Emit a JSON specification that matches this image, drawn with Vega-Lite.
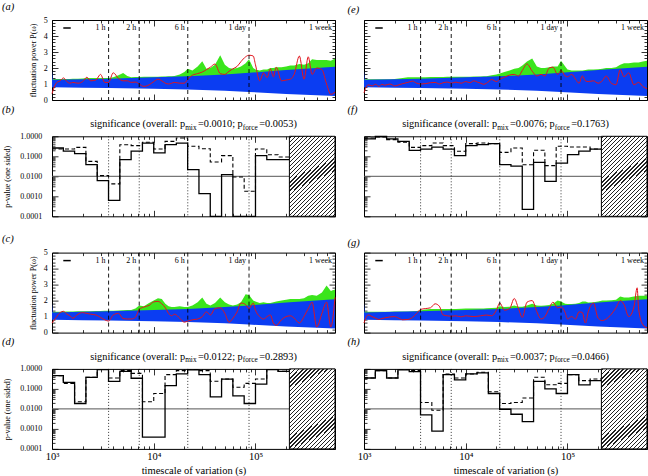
{
"$schema":"https://vega.github.io/schema/vega-lite/v6.json",
"padding":{"left":2,"top":1,"right":0,"bottom":0},
"background":"white",
"config":{
"font":"Liberation Serif",
"view":{"stroke":null},
"axis":{"grid":false,"zindex":1,"labelColor":"black","titleColor":"black","tickColor":"black","domainColor":"black","domainWidth":1,"tickWidth":0.8,"titleFontWeight":"normal","labelFlush":false,"labelOverlap":false,"labelFont":"Liberation Serif","titleFont":"Liberation Serif"},
"axisY":{"labelFontSize":8,"titleFontSize":8},
"axisX":{"labelFontSize":10.5,"titleFontSize":10.5},
"title":{"font":"Liberation Serif","fontSize":10.5,"fontStyle":"italic","fontWeight":"normal","anchor":"start","frame":"group","offset":4,"color":"black"},
"text":{"font":"Liberation Serif","color":"black"},
"rect":{"stroke":"black","strokeWidth":1,"fill":{"gradient":"linear","x1":0,"y1":0,"x2":0.681,"y2":1.184,"stops":[{"offset":0,"color":"#fff"},{"offset":0.0113,"color":"#fff"},{"offset":0.0113,"color":"#222"},{"offset":0.021,"color":"#222"},{"offset":0.021,"color":"#fff"},{"offset":0.0435,"color":"#fff"},{"offset":0.0435,"color":"#222"},{"offset":0.0532,"color":"#222"},{"offset":0.0532,"color":"#fff"},{"offset":0.0758,"color":"#fff"},{"offset":0.0758,"color":"#222"},{"offset":0.0855,"color":"#222"},{"offset":0.0855,"color":"#fff"},{"offset":0.1081,"color":"#fff"},{"offset":0.1081,"color":"#222"},{"offset":0.1177,"color":"#222"},{"offset":0.1177,"color":"#fff"},{"offset":0.1403,"color":"#fff"},{"offset":0.1403,"color":"#222"},{"offset":0.15,"color":"#222"},{"offset":0.15,"color":"#fff"},{"offset":0.1726,"color":"#fff"},{"offset":0.1726,"color":"#222"},{"offset":0.1823,"color":"#222"},{"offset":0.1823,"color":"#fff"},{"offset":0.2048,"color":"#fff"},{"offset":0.2048,"color":"#222"},{"offset":0.2145,"color":"#222"},{"offset":0.2145,"color":"#fff"},{"offset":0.2371,"color":"#fff"},{"offset":0.2371,"color":"#222"},{"offset":0.2468,"color":"#222"},{"offset":0.2468,"color":"#fff"},{"offset":0.2694,"color":"#fff"},{"offset":0.2694,"color":"#222"},{"offset":0.279,"color":"#222"},{"offset":0.279,"color":"#fff"},{"offset":0.3016,"color":"#fff"},{"offset":0.3016,"color":"#222"},{"offset":0.3113,"color":"#222"},{"offset":0.3113,"color":"#fff"},{"offset":0.3339,"color":"#fff"},{"offset":0.3339,"color":"#222"},{"offset":0.3435,"color":"#222"},{"offset":0.3435,"color":"#fff"},{"offset":0.3661,"color":"#fff"},{"offset":0.3661,"color":"#222"},{"offset":0.3758,"color":"#222"},{"offset":0.3758,"color":"#fff"},{"offset":0.3984,"color":"#fff"},{"offset":0.3984,"color":"#222"},{"offset":0.4081,"color":"#222"},{"offset":0.4081,"color":"#fff"},{"offset":0.4306,"color":"#fff"},{"offset":0.4306,"color":"#222"},{"offset":0.4403,"color":"#222"},{"offset":0.4403,"color":"#fff"},{"offset":0.4629,"color":"#fff"},{"offset":0.4629,"color":"#222"},{"offset":0.4726,"color":"#222"},{"offset":0.4726,"color":"#fff"},{"offset":0.4952,"color":"#fff"},{"offset":0.4952,"color":"#222"},{"offset":0.5048,"color":"#222"},{"offset":0.5048,"color":"#fff"},{"offset":0.5274,"color":"#fff"},{"offset":0.5274,"color":"#222"},{"offset":0.5371,"color":"#222"},{"offset":0.5371,"color":"#fff"},{"offset":0.5597,"color":"#fff"},{"offset":0.5597,"color":"#222"},{"offset":0.5694,"color":"#222"},{"offset":0.5694,"color":"#fff"},{"offset":0.5919,"color":"#fff"},{"offset":0.5919,"color":"#222"},{"offset":0.6016,"color":"#222"},{"offset":0.6016,"color":"#fff"},{"offset":0.6242,"color":"#fff"},{"offset":0.6242,"color":"#222"},{"offset":0.6339,"color":"#222"},{"offset":0.6339,"color":"#fff"},{"offset":0.6565,"color":"#fff"},{"offset":0.6565,"color":"#222"},{"offset":0.6661,"color":"#222"},{"offset":0.6661,"color":"#fff"},{"offset":0.6887,"color":"#fff"},{"offset":0.6887,"color":"#222"},{"offset":0.6984,"color":"#222"},{"offset":0.6984,"color":"#fff"},{"offset":0.721,"color":"#fff"},{"offset":0.721,"color":"#222"},{"offset":0.7306,"color":"#222"},{"offset":0.7306,"color":"#fff"},{"offset":0.7532,"color":"#fff"},{"offset":0.7532,"color":"#222"},{"offset":0.7629,"color":"#222"},{"offset":0.7629,"color":"#fff"},{"offset":0.7855,"color":"#fff"},{"offset":0.7855,"color":"#222"},{"offset":0.7952,"color":"#222"},{"offset":0.7952,"color":"#fff"},{"offset":0.8177,"color":"#fff"},{"offset":0.8177,"color":"#222"},{"offset":0.8274,"color":"#222"},{"offset":0.8274,"color":"#fff"},{"offset":0.85,"color":"#fff"},{"offset":0.85,"color":"#222"},{"offset":0.8597,"color":"#222"},{"offset":0.8597,"color":"#fff"},{"offset":0.8823,"color":"#fff"},{"offset":0.8823,"color":"#222"},{"offset":0.8919,"color":"#222"},{"offset":0.8919,"color":"#fff"},{"offset":0.9145,"color":"#fff"},{"offset":0.9145,"color":"#222"},{"offset":0.9242,"color":"#222"},{"offset":0.9242,"color":"#fff"},{"offset":0.9468,"color":"#fff"},{"offset":0.9468,"color":"#222"},{"offset":0.9565,"color":"#222"},{"offset":0.9565,"color":"#fff"},{"offset":0.979,"color":"#fff"},{"offset":0.979,"color":"#222"},{"offset":0.9887,"color":"#222"},{"offset":0.9887,"color":"#fff"},{"offset":1,"color":"#fff"}]}}
},
"datasets":{
"blue":[{"t":1000,"lo":0.78,"hi":1.85},{"t":1015,"lo":0.8,"hi":1.26},{"t":2000,"lo":0.77,"hi":1.3},{"t":3600,"lo":0.75,"hi":1.33},{"t":10000,"lo":0.71,"hi":1.42},{"t":21600,"lo":0.66,"hi":1.48},{"t":50000,"lo":0.58,"hi":1.6},{"t":86400,"lo":0.5,"hi":1.7},{"t":200000,"lo":0.38,"hi":1.88},{"t":604800,"lo":0.25,"hi":2.08}],
"markers":[{"t":3600,"label":"1 h"},{"t":7200,"label":"2 h"},{"t":21600,"label":"6 h"},{"t":86400,"label":"1 day"},{"t":604800,"label":"1 week"}],
"resbar":[{"start":1291,"end":1528}],
"hatch":[{"start":215443,"end":604800}],
"sig":[{"panel":"b","mix":"=0.0010; p","force":"=0.0053)"},{"panel":"d","mix":"=0.0122; p","force":"=0.2893)"},{"panel":"f","mix":"=0.0076; p","force":"=0.1763)"},{"panel":"h","mix":"=0.0037; p","force":"=0.0466)"}],
"powA":[{"t":1000,"red":0.4,"green":1.3},{"t":1100,"red":1.05,"green":1.32},{"t":1200,"red":1.2,"green":1.32},{"t":1300,"red":1.38,"green":1.32},{"t":1400,"red":1.15,"green":1.32},{"t":1500,"red":1.05,"green":1.32},{"t":1600,"red":1.1,"green":1.33},{"t":1800,"red":1.05,"green":1.33},{"t":2000,"red":1.15,"green":1.34},{"t":2200,"red":1.42,"green":1.38},{"t":2400,"red":1.2,"green":1.38},{"t":2700,"red":1.25,"green":1.38},{"t":3000,"red":1.6,"green":1.38},{"t":3300,"red":1.1,"green":1.38},{"t":3600,"red":1.1,"green":1.38},{"t":4000,"red":1.7,"green":1.42},{"t":4500,"red":1.35,"green":1.55},{"t":5000,"red":1.2,"green":1.68},{"t":5500,"red":1.2,"green":1.5},{"t":6000,"red":1.1,"green":1.42},{"t":6600,"red":1.12,"green":1.44},{"t":7200,"red":1.0,"green":1.44},{"t":8000,"red":0.85,"green":1.45},{"t":9000,"red":0.95,"green":1.45},{"t":10000,"red":1.15,"green":1.46},{"t":11000,"red":1.3,"green":1.46},{"t":12000,"red":1.2,"green":1.47},{"t":13000,"red":1.05,"green":1.47},{"t":14000,"red":1.0,"green":1.48},{"t":15000,"red":1.05,"green":1.48},{"t":16000,"red":1.1,"green":1.5},{"t":18000,"red":1.05,"green":1.6},{"t":20000,"red":1.05,"green":1.75},{"t":21600,"red":1.3,"green":1.95},{"t":24000,"red":1.55,"green":1.85},{"t":27000,"red":1.65,"green":2.1},{"t":30000,"red":1.75,"green":2.42},{"t":33000,"red":1.9,"green":1.95},{"t":36000,"red":2.05,"green":2.0},{"t":40000,"red":2.25,"green":2.2},{"t":45000,"red":1.65,"green":2.8},{"t":50000,"red":1.6,"green":2.2},{"t":55000,"red":1.8,"green":2.0},{"t":60000,"red":1.95,"green":1.95},{"t":66000,"red":2.1,"green":2.0},{"t":72000,"red":2.4,"green":2.1},{"t":80000,"red":2.7,"green":2.3},{"t":86400,"red":2.8,"green":2.55},{"t":95000,"red":2.75,"green":2.0},{"t":100000,"red":2.2,"green":1.9},{"t":110000,"red":1.2,"green":1.85},{"t":120000,"red":1.7,"green":1.9},{"t":130000,"red":1.4,"green":1.9},{"t":140000,"red":1.95,"green":2.0},{"t":150000,"red":1.45,"green":2.0},{"t":160000,"red":2.05,"green":2.05},{"t":180000,"red":1.2,"green":2.05},{"t":200000,"red":1.25,"green":2.1},{"t":220000,"red":1.3,"green":2.15},{"t":240000,"red":1.6,"green":2.15},{"t":270000,"red":2.75,"green":2.25},{"t":300000,"red":1.3,"green":2.2},{"t":330000,"red":2.7,"green":2.3},{"t":360000,"red":1.6,"green":2.55},{"t":400000,"red":2.0,"green":2.5},{"t":450000,"red":1.9,"green":2.5},{"t":500000,"red":1.0,"green":2.5},{"t":550000,"red":0.35,"green":2.45},{"t":604800,"red":0.5,"green":2.6}],
"powC":[{"t":1000,"red":0.6,"green":1.28},{"t":1100,"red":0.95,"green":1.3},{"t":1200,"red":1.25,"green":1.3},{"t":1300,"red":1.33,"green":1.32},{"t":1400,"red":1.15,"green":1.32},{"t":1500,"red":1.05,"green":1.32},{"t":1600,"red":0.9,"green":1.32},{"t":1800,"red":1.15,"green":1.33},{"t":2000,"red":1.25,"green":1.33},{"t":2200,"red":1.2,"green":1.34},{"t":2400,"red":1.15,"green":1.34},{"t":2700,"red":1.1,"green":1.35},{"t":3000,"red":0.95,"green":1.35},{"t":3300,"red":0.8,"green":1.36},{"t":3600,"red":0.72,"green":1.36},{"t":4000,"red":1.1,"green":1.36},{"t":4500,"red":1.2,"green":1.38},{"t":5000,"red":0.88,"green":1.4},{"t":5500,"red":0.85,"green":1.42},{"t":6000,"red":0.85,"green":1.42},{"t":6600,"red":0.95,"green":1.5},{"t":7200,"red":1.45,"green":1.7},{"t":8000,"red":1.6,"green":1.65},{"t":9000,"red":1.7,"green":1.85},{"t":10000,"red":1.92,"green":2.0},{"t":11000,"red":1.95,"green":2.15},{"t":12000,"red":1.8,"green":2.1},{"t":13000,"red":1.55,"green":1.8},{"t":14000,"red":1.2,"green":1.65},{"t":15000,"red":1.05,"green":1.6},{"t":16000,"red":1.15,"green":1.6},{"t":18000,"red":0.9,"green":1.65},{"t":20000,"red":0.65,"green":1.6},{"t":21600,"red":0.72,"green":1.6},{"t":24000,"red":0.8,"green":1.7},{"t":27000,"red":0.85,"green":1.9},{"t":30000,"red":1.0,"green":2.2},{"t":33000,"red":1.3,"green":1.8},{"t":36000,"red":1.1,"green":1.7},{"t":40000,"red":1.5,"green":1.85},{"t":45000,"red":1.55,"green":2.2},{"t":50000,"red":1.2,"green":1.9},{"t":55000,"red":0.65,"green":1.75},{"t":60000,"red":0.9,"green":1.7},{"t":66000,"red":1.3,"green":1.75},{"t":72000,"red":1.85,"green":1.9},{"t":80000,"red":1.75,"green":2.4},{"t":86400,"red":1.5,"green":2.35},{"t":95000,"red":1.85,"green":2.0},{"t":100000,"red":1.4,"green":1.95},{"t":110000,"red":1.0,"green":1.85},{"t":120000,"red":0.85,"green":1.9},{"t":130000,"red":1.0,"green":1.85},{"t":140000,"red":1.1,"green":1.85},{"t":150000,"red":0.6,"green":1.9},{"t":160000,"red":0.45,"green":1.95},{"t":180000,"red":0.8,"green":2.0},{"t":200000,"red":1.0,"green":2.05},{"t":220000,"red":1.05,"green":2.1},{"t":240000,"red":0.9,"green":2.1},{"t":270000,"red":0.6,"green":2.1},{"t":300000,"red":1.0,"green":2.15},{"t":330000,"red":1.5,"green":2.3},{"t":360000,"red":1.9,"green":2.35},{"t":400000,"red":0.35,"green":2.3},{"t":450000,"red":1.2,"green":2.5},{"t":500000,"red":1.9,"green":2.95},{"t":550000,"red":0.35,"green":2.6},{"t":604800,"red":2.2,"green":2.7}],
"powE":[{"t":1000,"red":0.45,"green":1.3},{"t":1100,"red":0.95,"green":1.3},{"t":1200,"red":0.88,"green":1.3},{"t":1300,"red":0.98,"green":1.3},{"t":1400,"red":0.85,"green":1.3},{"t":1500,"red":0.98,"green":1.3},{"t":1600,"red":0.92,"green":1.3},{"t":1800,"red":1.0,"green":1.3},{"t":2000,"red":0.88,"green":1.32},{"t":2200,"red":0.95,"green":1.35},{"t":2400,"red":1.02,"green":1.38},{"t":2700,"red":1.1,"green":1.42},{"t":3000,"red":1.18,"green":1.42},{"t":3300,"red":1.05,"green":1.42},{"t":3600,"red":1.0,"green":1.42},{"t":4000,"red":1.02,"green":1.42},{"t":4500,"red":1.08,"green":1.43},{"t":5000,"red":1.1,"green":1.43},{"t":5500,"red":1.0,"green":1.43},{"t":6000,"red":1.08,"green":1.43},{"t":6600,"red":1.12,"green":1.45},{"t":7200,"red":1.05,"green":1.45},{"t":8000,"red":1.12,"green":1.45},{"t":9000,"red":1.05,"green":1.45},{"t":10000,"red":1.15,"green":1.46},{"t":11000,"red":1.08,"green":1.46},{"t":12000,"red":1.2,"green":1.47},{"t":13000,"red":1.12,"green":1.47},{"t":14000,"red":1.05,"green":1.47},{"t":15000,"red":0.98,"green":1.48},{"t":16000,"red":1.05,"green":1.48},{"t":18000,"red":1.28,"green":1.55},{"t":20000,"red":1.15,"green":1.6},{"t":21600,"red":1.3,"green":1.65},{"t":24000,"red":1.42,"green":1.75},{"t":27000,"red":1.56,"green":1.85},{"t":30000,"red":1.6,"green":1.95},{"t":33000,"red":1.5,"green":2.0},{"t":36000,"red":1.85,"green":2.15},{"t":40000,"red":2.25,"green":2.4},{"t":45000,"red":1.8,"green":2.6},{"t":50000,"red":1.5,"green":2.1},{"t":55000,"red":1.6,"green":2.0},{"t":60000,"red":1.5,"green":2.0},{"t":66000,"red":2.0,"green":2.05},{"t":72000,"red":2.05,"green":2.1},{"t":80000,"red":1.6,"green":2.1},{"t":86400,"red":1.85,"green":2.45},{"t":95000,"red":1.5,"green":2.1},{"t":100000,"red":1.45,"green":1.9},{"t":110000,"red":1.6,"green":1.85},{"t":120000,"red":1.3,"green":1.85},{"t":130000,"red":1.05,"green":1.85},{"t":140000,"red":1.5,"green":1.85},{"t":150000,"red":1.2,"green":1.88},{"t":160000,"red":1.15,"green":1.9},{"t":180000,"red":1.2,"green":1.9},{"t":200000,"red":1.05,"green":1.92},{"t":220000,"red":1.2,"green":1.95},{"t":240000,"red":1.5,"green":2.0},{"t":270000,"red":1.05,"green":2.0},{"t":300000,"red":0.95,"green":2.05},{"t":330000,"red":1.9,"green":2.2},{"t":360000,"red":1.45,"green":2.3},{"t":400000,"red":1.7,"green":2.3},{"t":450000,"red":0.95,"green":2.35},{"t":500000,"red":1.1,"green":2.35},{"t":550000,"red":0.85,"green":2.4},{"t":604800,"red":0.7,"green":2.45}],
"powG":[{"t":1000,"red":0.6,"green":1.3},{"t":1100,"red":1.1,"green":1.3},{"t":1200,"red":1.0,"green":1.3},{"t":1300,"red":0.9,"green":1.3},{"t":1400,"red":0.82,"green":1.3},{"t":1500,"red":0.88,"green":1.3},{"t":1600,"red":0.92,"green":1.3},{"t":1800,"red":0.98,"green":1.31},{"t":2000,"red":1.0,"green":1.32},{"t":2200,"red":0.9,"green":1.32},{"t":2400,"red":0.8,"green":1.32},{"t":2700,"red":0.82,"green":1.32},{"t":3000,"red":0.95,"green":1.33},{"t":3300,"red":1.2,"green":1.35},{"t":3600,"red":1.45,"green":1.38},{"t":4000,"red":1.5,"green":1.45},{"t":4500,"red":1.55,"green":1.48},{"t":5000,"red":1.8,"green":1.48},{"t":5500,"red":1.65,"green":1.48},{"t":6000,"red":1.1,"green":1.48},{"t":6600,"red":1.05,"green":1.48},{"t":7200,"red":1.02,"green":1.48},{"t":8000,"red":1.05,"green":1.48},{"t":9000,"red":0.98,"green":1.49},{"t":10000,"red":1.05,"green":1.5},{"t":11000,"red":1.02,"green":1.5},{"t":12000,"red":1.0,"green":1.5},{"t":13000,"red":1.02,"green":1.5},{"t":14000,"red":1.05,"green":1.51},{"t":15000,"red":1.08,"green":1.51},{"t":16000,"red":1.1,"green":1.52},{"t":18000,"red":1.05,"green":1.53},{"t":20000,"red":1.4,"green":1.55},{"t":21600,"red":1.85,"green":1.65},{"t":24000,"red":1.4,"green":1.6},{"t":27000,"red":1.5,"green":1.62},{"t":30000,"red":2.13,"green":1.7},{"t":33000,"red":1.5,"green":1.62},{"t":36000,"red":0.95,"green":1.62},{"t":40000,"red":1.9,"green":1.7},{"t":45000,"red":2.0,"green":1.8},{"t":50000,"red":1.3,"green":1.7},{"t":55000,"red":0.85,"green":1.68},{"t":60000,"red":1.0,"green":1.7},{"t":66000,"red":1.5,"green":1.72},{"t":72000,"red":1.9,"green":1.8},{"t":80000,"red":1.55,"green":2.0},{"t":86400,"red":1.6,"green":1.95},{"t":95000,"red":1.25,"green":1.8},{"t":100000,"red":0.85,"green":1.78},{"t":110000,"red":1.0,"green":1.78},{"t":120000,"red":0.85,"green":1.8},{"t":130000,"red":1.3,"green":1.85},{"t":140000,"red":1.25,"green":1.95},{"t":150000,"red":0.6,"green":1.95},{"t":160000,"red":1.3,"green":1.88},{"t":180000,"red":1.85,"green":1.9},{"t":200000,"red":0.9,"green":1.95},{"t":220000,"red":0.75,"green":2.0},{"t":240000,"red":0.85,"green":2.0},{"t":270000,"red":1.15,"green":2.02},{"t":300000,"red":1.55,"green":2.05},{"t":330000,"red":2.0,"green":2.25},{"t":360000,"red":1.75,"green":2.2},{"t":400000,"red":1.0,"green":2.2},{"t":450000,"red":1.6,"green":2.25},{"t":484000,"red":2.8,"green":2.28},{"t":500000,"red":1.5,"green":2.3},{"t":550000,"red":0.5,"green":2.3},{"t":604800,"red":0.3,"green":2.3}],
"pB":[{"t":1000,"mix":0.26,"force":0.23},{"t":1292,"mix":0.18,"force":0.23},{"t":1668,"mix":0.136,"force":0.28},{"t":2154,"mix":0.038,"force":0.056},{"t":2783,"mix":0.0061,"force":0.0108},{"t":3594,"mix":0.00063,"force":0.0042},{"t":4642,"mix":0.068,"force":0.38},{"t":5995,"mix":0.18,"force":0.34},{"t":7743,"mix":0.46,"force":0.5},{"t":10000,"mix":0.147,"force":0.23},{"t":12915,"mix":0.38,"force":0.56},{"t":16681,"mix":0.46,"force":0.82},{"t":21544,"mix":0.0215,"force":0.32},{"t":27826,"mix":0.00136,"force":0.24},{"t":35938,"mix":0.0001,"force":0.052},{"t":46416,"mix":0.0121,"force":0.108},{"t":59948,"mix":0.0001,"force":0.0093},{"t":77426,"mix":0.0001,"force":0.0018},{"t":100000,"mix":0.108,"force":0.23},{"t":129155,"mix":0.068,"force":0.12},{"t":166810,"mix":0.068,"force":0.093},{"t":215443,"mix":0.068,"force":0.093}],
"pD":[{"t":1000,"mix":0.46,"force":0.46},{"t":1292,"mix":0.21,"force":0.19},{"t":1668,"mix":0.0186,"force":0.0226},{"t":2154,"mix":0.38,"force":0.38},{"t":2783,"mix":0.93,"force":0.93},{"t":3594,"mix":0.24,"force":0.35},{"t":4642,"mix":0.76,"force":0.82},{"t":5995,"mix":0.34,"force":0.6},{"t":7743,"mix":0.00039,"force":0.0226},{"t":10000,"mix":0.00039,"force":0.059},{"t":12915,"mix":0.145,"force":0.52},{"t":16681,"mix":0.56,"force":0.82},{"t":21544,"mix":0.89,"force":0.93},{"t":27826,"mix":0.52,"force":0.82},{"t":35938,"mix":0.04,"force":0.24},{"t":46416,"mix":0.31,"force":0.31},{"t":59948,"mix":0.045,"force":0.12},{"t":77426,"mix":0.0186,"force":0.19},{"t":100000,"mix":0.175,"force":0.31},{"t":129155,"mix":0.93,"force":0.93},{"t":166810,"mix":0.76,"force":0.76},{"t":215443,"mix":0.76,"force":0.76}],
"pF":[{"t":1000,"mix":0.74,"force":0.82},{"t":1292,"mix":0.98,"force":0.93},{"t":1668,"mix":0.74,"force":0.68},{"t":2154,"mix":0.56,"force":0.5},{"t":2783,"mix":0.2,"force":0.28},{"t":3594,"mix":0.23,"force":0.34},{"t":4642,"mix":0.29,"force":0.46},{"t":5995,"mix":0.23,"force":0.34},{"t":7743,"mix":0.108,"force":0.18},{"t":10000,"mix":0.34,"force":0.43},{"t":12915,"mix":0.38,"force":0.46},{"t":16681,"mix":0.43,"force":0.43},{"t":21544,"mix":0.038,"force":0.158},{"t":27826,"mix":0.032,"force":0.26},{"t":35938,"mix":0.00022,"force":0.038},{"t":46416,"mix":0.05,"force":0.2},{"t":59948,"mix":0.0056,"force":0.034},{"t":77426,"mix":0.046,"force":0.32},{"t":100000,"mix":0.12,"force":0.29},{"t":129155,"mix":0.18,"force":0.29},{"t":166810,"mix":0.23,"force":0.23},{"t":215443,"mix":0.23,"force":0.23}],
"pH":[{"t":1000,"mix":0.35,"force":0.35},{"t":1292,"mix":0.82,"force":0.82},{"t":1668,"mix":0.35,"force":0.35},{"t":2154,"mix":0.89,"force":0.93},{"t":2783,"mix":0.73,"force":0.82},{"t":3594,"mix":0.005,"force":0.021},{"t":4642,"mix":0.00078,"force":0.0085},{"t":5995,"mix":0.52,"force":0.56},{"t":7743,"mix":0.28,"force":0.35},{"t":10000,"mix":0.56,"force":0.56},{"t":12915,"mix":0.63,"force":0.68},{"t":16681,"mix":0.059,"force":0.072},{"t":21544,"mix":0.0096,"force":0.0186},{"t":27826,"mix":0.0054,"force":0.021},{"t":35938,"mix":0.0023,"force":0.035},{"t":46416,"mix":0.24,"force":0.38},{"t":59948,"mix":0.1,"force":0.16},{"t":77426,"mix":0.059,"force":0.19},{"t":100000,"mix":0.52,"force":0.52},{"t":129155,"mix":0.16,"force":0.26},{"t":166810,"mix":0.26,"force":0.31},{"t":215443,"mix":0.26,"force":0.31}]
},
"columns":2,
"spacing":{"row":36.3,"column":29},
"bounds":"flush",
"concat":[
{"width":283,"height":80,"title":{"text":"(a)","dx":-50},"data":{"name":"powA"},
"resolve":{"axis":{"x":"independent","y":"independent"}},
"layer":[
{"mark":{"type":"area","color":"#3ae51c"},"encoding":{"x":{"field":"t","type":"quantitative","scale":{"type":"log","domain":[1000,604800],"nice":false},"axis":null},"y":{"field":"green","type":"quantitative","scale":{"domain":[0,5],"nice":false,"zero":false},"axis":null},"y2":{"datum":1.2}}},
{"data":{"name":"blue"},"mark":{"type":"area","color":"#0b3df2"},"encoding":{"x":{"field":"t","type":"quantitative","scale":{"type":"log","domain":[1000,604800],"nice":false},"axis":null},"y":{"field":"hi","type":"quantitative","scale":{"domain":[0,5],"nice":false,"zero":false},"axis":null},"y2":{"field":"lo"}}},
{"mark":{"type":"line","color":"#e2141c","strokeWidth":1,"interpolate":"monotone"},"encoding":{"x":{"field":"t","type":"quantitative","scale":{"type":"log","domain":[1000,604800],"nice":false},"axis":null},"y":{"field":"red","type":"quantitative","scale":{"domain":[0,5],"nice":false,"zero":false},"axis":null}}},
{"data":{"name":"markers"},"transform":[{"filter":"datum.t < 600000"}],"mark":{"type":"rule","color":"black","strokeDash":[4,3],"strokeWidth":0.9},"encoding":{"x":{"field":"t","type":"quantitative","scale":{"type":"log","domain":[1000,604800],"nice":false},"axis":null}}},
{"data":{"name":"markers"},"mark":{"type":"text","align":"right","baseline":"middle","dx":-3,"fontSize":8},"encoding":{"x":{"field":"t","type":"quantitative","scale":{"type":"log","domain":[1000,604800],"nice":false},"axis":null},"y":{"datum":4.5,"type":"quantitative","scale":{"domain":[0,5],"nice":false,"zero":false},"axis":null},"text":{"field":"label"}}},
{"data":{"name":"resbar"},"mark":{"type":"rule","color":"black","strokeWidth":1.5},"encoding":{"x":{"field":"start","type":"quantitative","scale":{"type":"log","domain":[1000,604800],"nice":false},"axis":null},"x2":{"field":"end"},"y":{"datum":4.5,"type":"quantitative","scale":{"domain":[0,5],"nice":false,"zero":false},"axis":null}}},
{"data":{"values":[{}]},"mark":{"type":"point","opacity":0},"encoding":{"x":{"datum":1000,"type":"quantitative","axis":{"orient":"bottom","values":[1000,10000,100000],"tickSize":-6,"labels":false,"domain":true,"title":null}},"y":{"datum":1,"type":"quantitative","scale":{"domain":[0,5],"nice":false,"zero":false},"axis":{"orient":"left","values":[0,1,2,3,4,5],"format":"d","tickSize":-6,"labelPadding":10.7,"domain":true,"title":"fluctuation power P(ω)","titlePadding":6}}}},
{"data":{"values":[{}]},"mark":{"type":"point","opacity":0},"encoding":{"x":{"datum":1000,"type":"quantitative","axis":{"orient":"bottom","values":[2000,3000,4000,5000,6000,7000,8000,9000,20000,30000,40000,50000,60000,70000,80000,90000,200000,300000,400000,500000,600000],"tickSize":-3,"labels":false,"domain":false,"title":null}},"y":{"datum":1,"type":"quantitative","scale":{"domain":[0,5],"nice":false,"zero":false},"axis":{"orient":"left","values":[0.2,0.4,0.6,0.8,1.2,1.4,1.6,1.8,2.2,2.4,2.6,2.8,3.2,3.4,3.6,3.8,4.2,4.4,4.6,4.8],"tickSize":-3,"labels":false,"domain":false,"title":null}}}},
{"data":{"values":[{}]},"mark":{"type":"point","opacity":0},"encoding":{"x":{"datum":1000,"type":"quantitative","axis":{"orient":"top","values":[1000,10000,100000],"tickSize":-6,"labels":false,"domain":true,"title":null}},"y":{"datum":1,"type":"quantitative","scale":{"domain":[0,5],"nice":false,"zero":false},"axis":{"orient":"right","values":[0,1,2,3,4,5],"tickSize":-6,"labels":false,"domain":true,"title":null}}}},
{"data":{"values":[{}]},"mark":{"type":"point","opacity":0},"encoding":{"x":{"datum":1000,"type":"quantitative","axis":{"orient":"top","values":[2000,3000,4000,5000,6000,7000,8000,9000,20000,30000,40000,50000,60000,70000,80000,90000,200000,300000,400000,500000,600000],"tickSize":-3,"labels":false,"domain":false,"title":null}},"y":{"datum":1,"type":"quantitative","scale":{"domain":[0,5],"nice":false,"zero":false},"axis":{"orient":"right","values":[0.2,0.4,0.6,0.8,1.2,1.4,1.6,1.8,2.2,2.4,2.6,2.8,3.2,3.4,3.6,3.8,4.2,4.4,4.6,4.8],"tickSize":-3,"labels":false,"domain":false,"title":null}}}}
]},
{"width":283,"height":80,"title":{"text":"(e)","dx":-16.4},"data":{"name":"powE"},
"resolve":{"axis":{"x":"independent","y":"independent"}},
"layer":[
{"mark":{"type":"area","color":"#3ae51c"},"encoding":{"x":{"field":"t","type":"quantitative","scale":{"type":"log","domain":[1000,604800],"nice":false},"axis":null},"y":{"field":"green","type":"quantitative","scale":{"domain":[0,5],"nice":false,"zero":false},"axis":null},"y2":{"datum":1.2}}},
{"data":{"name":"blue"},"mark":{"type":"area","color":"#0b3df2"},"encoding":{"x":{"field":"t","type":"quantitative","scale":{"type":"log","domain":[1000,604800],"nice":false},"axis":null},"y":{"field":"hi","type":"quantitative","scale":{"domain":[0,5],"nice":false,"zero":false},"axis":null},"y2":{"field":"lo"}}},
{"mark":{"type":"line","color":"#e2141c","strokeWidth":1,"interpolate":"monotone"},"encoding":{"x":{"field":"t","type":"quantitative","scale":{"type":"log","domain":[1000,604800],"nice":false},"axis":null},"y":{"field":"red","type":"quantitative","scale":{"domain":[0,5],"nice":false,"zero":false},"axis":null}}},
{"data":{"name":"markers"},"transform":[{"filter":"datum.t < 600000"}],"mark":{"type":"rule","color":"black","strokeDash":[4,3],"strokeWidth":0.9},"encoding":{"x":{"field":"t","type":"quantitative","scale":{"type":"log","domain":[1000,604800],"nice":false},"axis":null}}},
{"data":{"name":"markers"},"mark":{"type":"text","align":"right","baseline":"middle","dx":-3,"fontSize":8},"encoding":{"x":{"field":"t","type":"quantitative","scale":{"type":"log","domain":[1000,604800],"nice":false},"axis":null},"y":{"datum":4.5,"type":"quantitative","scale":{"domain":[0,5],"nice":false,"zero":false},"axis":null},"text":{"field":"label"}}},
{"data":{"name":"resbar"},"mark":{"type":"rule","color":"black","strokeWidth":1.5},"encoding":{"x":{"field":"start","type":"quantitative","scale":{"type":"log","domain":[1000,604800],"nice":false},"axis":null},"x2":{"field":"end"},"y":{"datum":4.5,"type":"quantitative","scale":{"domain":[0,5],"nice":false,"zero":false},"axis":null}}},
{"data":{"values":[{}]},"mark":{"type":"point","opacity":0},"encoding":{"x":{"datum":1000,"type":"quantitative","axis":{"orient":"bottom","values":[1000,10000,100000],"tickSize":-6,"labels":false,"domain":true,"title":null}},"y":{"datum":1,"type":"quantitative","scale":{"domain":[0,5],"nice":false,"zero":false},"axis":{"orient":"left","values":[0,1,2,3,4,5],"tickSize":-6,"labels":false,"domain":true,"title":null}}}},
{"data":{"values":[{}]},"mark":{"type":"point","opacity":0},"encoding":{"x":{"datum":1000,"type":"quantitative","axis":{"orient":"bottom","values":[2000,3000,4000,5000,6000,7000,8000,9000,20000,30000,40000,50000,60000,70000,80000,90000,200000,300000,400000,500000,600000],"tickSize":-3,"labels":false,"domain":false,"title":null}},"y":{"datum":1,"type":"quantitative","scale":{"domain":[0,5],"nice":false,"zero":false},"axis":{"orient":"left","values":[0.2,0.4,0.6,0.8,1.2,1.4,1.6,1.8,2.2,2.4,2.6,2.8,3.2,3.4,3.6,3.8,4.2,4.4,4.6,4.8],"tickSize":-3,"labels":false,"domain":false,"title":null}}}},
{"data":{"values":[{}]},"mark":{"type":"point","opacity":0},"encoding":{"x":{"datum":1000,"type":"quantitative","axis":{"orient":"top","values":[1000,10000,100000],"tickSize":-6,"labels":false,"domain":true,"title":null}},"y":{"datum":1,"type":"quantitative","scale":{"domain":[0,5],"nice":false,"zero":false},"axis":{"orient":"right","values":[0,1,2,3,4,5],"tickSize":-6,"labels":false,"domain":true,"title":null}}}},
{"data":{"values":[{}]},"mark":{"type":"point","opacity":0},"encoding":{"x":{"datum":1000,"type":"quantitative","axis":{"orient":"top","values":[2000,3000,4000,5000,6000,7000,8000,9000,20000,30000,40000,50000,60000,70000,80000,90000,200000,300000,400000,500000,600000],"tickSize":-3,"labels":false,"domain":false,"title":null}},"y":{"datum":1,"type":"quantitative","scale":{"domain":[0,5],"nice":false,"zero":false},"axis":{"orient":"right","values":[0.2,0.4,0.6,0.8,1.2,1.4,1.6,1.8,2.2,2.4,2.6,2.8,3.2,3.4,3.6,3.8,4.2,4.4,4.6,4.8],"tickSize":-3,"labels":false,"domain":false,"title":null}}}}
]},
{"width":283,"height":80,"title":{"text":"(b)","dx":-50},"data":{"name":"pB"},
"resolve":{"axis":{"x":"independent","y":"independent"}},
"layer":[
{"data":{"values":[{}]},"mark":{"type":"rule","color":"#555","strokeWidth":1},"encoding":{"x":{"datum":1000,"type":"quantitative","scale":{"type":"log","domain":[1000,604800],"nice":false},"axis":null},"x2":{"datum":604800},"y":{"datum":0.01,"type":"quantitative","scale":{"type":"log","domain":[0.0001,1],"nice":false},"axis":null}}},
{"data":{"name":"markers"},"transform":[{"filter":"datum.t < 600000"}],"mark":{"type":"rule","color":"black","strokeDash":[1,2],"strokeWidth":0.8},"encoding":{"x":{"field":"t","type":"quantitative","scale":{"type":"log","domain":[1000,604800],"nice":false},"axis":null}}},
{"mark":{"type":"line","interpolate":"step-after","color":"black","strokeWidth":1.3},"encoding":{"x":{"field":"t","type":"quantitative","scale":{"type":"log","domain":[1000,604800],"nice":false},"axis":null},"y":{"field":"mix","type":"quantitative","scale":{"type":"log","domain":[0.0001,1],"nice":false},"axis":null}}},
{"mark":{"type":"line","interpolate":"step-after","color":"black","strokeWidth":1.1,"strokeDash":[4,2.5]},"encoding":{"x":{"field":"t","type":"quantitative","scale":{"type":"log","domain":[1000,604800],"nice":false},"axis":null},"y":{"field":"force","type":"quantitative","scale":{"type":"log","domain":[0.0001,1],"nice":false},"axis":null}}},
{"data":{"name":"hatch"},"mark":{"type":"rect"},"encoding":{"x":{"field":"start","type":"quantitative","scale":{"type":"log","domain":[1000,604800],"nice":false},"axis":null},"x2":{"field":"end"},"y":{"datum":0.0001,"type":"quantitative","scale":{"type":"log","domain":[0.0001,1],"nice":false},"axis":null},"y2":{"datum":1}}},
{"data":{"name":"sig"},"transform":[{"filter":"datum.panel == 'b'"}],"mark":{"type":"text","align":"left","baseline":"alphabetic","dx":-103.3,"fontSize":10.3,"text":"significance (overall: p"},"encoding":{"x":{"datum":24600,"type":"quantitative","axis":null},"y":{"datum":2.8,"type":"quantitative","scale":{"type":"log","domain":[0.0001,1],"nice":false},"axis":null}}},
{"data":{"name":"sig"},"transform":[{"filter":"datum.panel == 'b'"}],"mark":{"type":"text","align":"left","baseline":"alphabetic","dx":-8.33,"dy":2.5,"fontSize":7.3,"text":"mix"},"encoding":{"x":{"datum":24600,"type":"quantitative","axis":null},"y":{"datum":2.8,"type":"quantitative","scale":{"type":"log","domain":[0.0001,1],"nice":false},"axis":null}}},
{"data":{"name":"sig"},"transform":[{"filter":"datum.panel == 'b'"}],"mark":{"type":"text","align":"left","baseline":"alphabetic","dx":4.53,"fontSize":10.3},"encoding":{"x":{"datum":24600,"type":"quantitative","axis":null},"y":{"datum":2.8,"type":"quantitative","scale":{"type":"log","domain":[0.0001,1],"nice":false},"axis":null},"text":{"field":"mix"}}},
{"data":{"name":"sig"},"transform":[{"filter":"datum.panel == 'b'"}],"mark":{"type":"text","align":"left","baseline":"alphabetic","dx":49.25,"dy":2.5,"fontSize":7.3,"text":"force"},"encoding":{"x":{"datum":24600,"type":"quantitative","axis":null},"y":{"datum":2.8,"type":"quantitative","scale":{"type":"log","domain":[0.0001,1],"nice":false},"axis":null}}},
{"data":{"name":"sig"},"transform":[{"filter":"datum.panel == 'b'"}],"mark":{"type":"text","align":"left","baseline":"alphabetic","dx":65.74,"fontSize":10.3},"encoding":{"x":{"datum":24600,"type":"quantitative","axis":null},"y":{"datum":2.8,"type":"quantitative","scale":{"type":"log","domain":[0.0001,1],"nice":false},"axis":null},"text":{"field":"force"}}},
{"data":{"values":[{}]},"mark":{"type":"point","opacity":0},"encoding":{"x":{"datum":1000,"type":"quantitative","axis":{"orient":"bottom","values":[1000,10000,100000],"tickSize":-6,"labels":false,"domain":true,"title":null}},"y":{"datum":0.01,"type":"quantitative","scale":{"type":"log","domain":[0.0001,1],"nice":false},"axis":{"orient":"left","values":[0.0001,0.001,0.01,0.1,1],"format":".4f","tickSize":-6,"labelPadding":16.3,"domain":true,"title":"p-value (one sided)","titlePadding":8}}}},
{"data":{"values":[{}]},"mark":{"type":"point","opacity":0},"encoding":{"x":{"datum":1000,"type":"quantitative","axis":{"orient":"bottom","values":[2000,3000,4000,5000,6000,7000,8000,9000,20000,30000,40000,50000,60000,70000,80000,90000,200000,300000,400000,500000,600000],"tickSize":-3,"labels":false,"domain":false,"title":null}},"y":{"datum":0.01,"type":"quantitative","scale":{"type":"log","domain":[0.0001,1],"nice":false},"axis":{"orient":"left","values":[0.0002,0.0003,0.0004,0.0005,0.0006,0.0007,0.0008,0.0009,0.002,0.003,0.004,0.005,0.006,0.007,0.008,0.009,0.02,0.03,0.04,0.05,0.06,0.07,0.08,0.09,0.2,0.3,0.4,0.5,0.6,0.7,0.8,0.9],"tickSize":-3,"labels":false,"domain":false,"title":null}}}},
{"data":{"values":[{}]},"mark":{"type":"point","opacity":0},"encoding":{"x":{"datum":1000,"type":"quantitative","axis":{"orient":"top","values":[1000,10000,100000],"tickSize":-6,"labels":false,"domain":true,"title":null}},"y":{"datum":0.01,"type":"quantitative","scale":{"type":"log","domain":[0.0001,1],"nice":false},"axis":{"orient":"right","values":[0.0001,0.001,0.01,0.1,1],"tickSize":-6,"labels":false,"domain":true,"title":null}}}},
{"data":{"values":[{}]},"mark":{"type":"point","opacity":0},"encoding":{"x":{"datum":1000,"type":"quantitative","axis":{"orient":"top","values":[2000,3000,4000,5000,6000,7000,8000,9000,20000,30000,40000,50000,60000,70000,80000,90000,200000,300000,400000,500000,600000],"tickSize":-3,"labels":false,"domain":false,"title":null}},"y":{"datum":0.01,"type":"quantitative","scale":{"type":"log","domain":[0.0001,1],"nice":false},"axis":{"orient":"right","values":[0.0002,0.0003,0.0004,0.0005,0.0006,0.0007,0.0008,0.0009,0.002,0.003,0.004,0.005,0.006,0.007,0.008,0.009,0.02,0.03,0.04,0.05,0.06,0.07,0.08,0.09,0.2,0.3,0.4,0.5,0.6,0.7,0.8,0.9],"tickSize":-3,"labels":false,"domain":false,"title":null}}}}
]},
{"width":283,"height":80,"title":{"text":"(f)","dx":-16.4},"data":{"name":"pF"},
"resolve":{"axis":{"x":"independent","y":"independent"}},
"layer":[
{"data":{"values":[{}]},"mark":{"type":"rule","color":"#555","strokeWidth":1},"encoding":{"x":{"datum":1000,"type":"quantitative","scale":{"type":"log","domain":[1000,604800],"nice":false},"axis":null},"x2":{"datum":604800},"y":{"datum":0.01,"type":"quantitative","scale":{"type":"log","domain":[0.0001,1],"nice":false},"axis":null}}},
{"data":{"name":"markers"},"transform":[{"filter":"datum.t < 600000"}],"mark":{"type":"rule","color":"black","strokeDash":[1,2],"strokeWidth":0.8},"encoding":{"x":{"field":"t","type":"quantitative","scale":{"type":"log","domain":[1000,604800],"nice":false},"axis":null}}},
{"mark":{"type":"line","interpolate":"step-after","color":"black","strokeWidth":1.3},"encoding":{"x":{"field":"t","type":"quantitative","scale":{"type":"log","domain":[1000,604800],"nice":false},"axis":null},"y":{"field":"mix","type":"quantitative","scale":{"type":"log","domain":[0.0001,1],"nice":false},"axis":null}}},
{"mark":{"type":"line","interpolate":"step-after","color":"black","strokeWidth":1.1,"strokeDash":[4,2.5]},"encoding":{"x":{"field":"t","type":"quantitative","scale":{"type":"log","domain":[1000,604800],"nice":false},"axis":null},"y":{"field":"force","type":"quantitative","scale":{"type":"log","domain":[0.0001,1],"nice":false},"axis":null}}},
{"data":{"name":"hatch"},"mark":{"type":"rect"},"encoding":{"x":{"field":"start","type":"quantitative","scale":{"type":"log","domain":[1000,604800],"nice":false},"axis":null},"x2":{"field":"end"},"y":{"datum":0.0001,"type":"quantitative","scale":{"type":"log","domain":[0.0001,1],"nice":false},"axis":null},"y2":{"datum":1}}},
{"data":{"name":"sig"},"transform":[{"filter":"datum.panel == 'f'"}],"mark":{"type":"text","align":"left","baseline":"alphabetic","dx":-103.3,"fontSize":10.3,"text":"significance (overall: p"},"encoding":{"x":{"datum":24600,"type":"quantitative","axis":null},"y":{"datum":2.8,"type":"quantitative","scale":{"type":"log","domain":[0.0001,1],"nice":false},"axis":null}}},
{"data":{"name":"sig"},"transform":[{"filter":"datum.panel == 'f'"}],"mark":{"type":"text","align":"left","baseline":"alphabetic","dx":-8.33,"dy":2.5,"fontSize":7.3,"text":"mix"},"encoding":{"x":{"datum":24600,"type":"quantitative","axis":null},"y":{"datum":2.8,"type":"quantitative","scale":{"type":"log","domain":[0.0001,1],"nice":false},"axis":null}}},
{"data":{"name":"sig"},"transform":[{"filter":"datum.panel == 'f'"}],"mark":{"type":"text","align":"left","baseline":"alphabetic","dx":4.53,"fontSize":10.3},"encoding":{"x":{"datum":24600,"type":"quantitative","axis":null},"y":{"datum":2.8,"type":"quantitative","scale":{"type":"log","domain":[0.0001,1],"nice":false},"axis":null},"text":{"field":"mix"}}},
{"data":{"name":"sig"},"transform":[{"filter":"datum.panel == 'f'"}],"mark":{"type":"text","align":"left","baseline":"alphabetic","dx":49.25,"dy":2.5,"fontSize":7.3,"text":"force"},"encoding":{"x":{"datum":24600,"type":"quantitative","axis":null},"y":{"datum":2.8,"type":"quantitative","scale":{"type":"log","domain":[0.0001,1],"nice":false},"axis":null}}},
{"data":{"name":"sig"},"transform":[{"filter":"datum.panel == 'f'"}],"mark":{"type":"text","align":"left","baseline":"alphabetic","dx":65.74,"fontSize":10.3},"encoding":{"x":{"datum":24600,"type":"quantitative","axis":null},"y":{"datum":2.8,"type":"quantitative","scale":{"type":"log","domain":[0.0001,1],"nice":false},"axis":null},"text":{"field":"force"}}},
{"data":{"values":[{}]},"mark":{"type":"point","opacity":0},"encoding":{"x":{"datum":1000,"type":"quantitative","axis":{"orient":"bottom","values":[1000,10000,100000],"tickSize":-6,"labels":false,"domain":true,"title":null}},"y":{"datum":0.01,"type":"quantitative","scale":{"type":"log","domain":[0.0001,1],"nice":false},"axis":{"orient":"left","values":[0.0001,0.001,0.01,0.1,1],"tickSize":-6,"labels":false,"domain":true,"title":null}}}},
{"data":{"values":[{}]},"mark":{"type":"point","opacity":0},"encoding":{"x":{"datum":1000,"type":"quantitative","axis":{"orient":"bottom","values":[2000,3000,4000,5000,6000,7000,8000,9000,20000,30000,40000,50000,60000,70000,80000,90000,200000,300000,400000,500000,600000],"tickSize":-3,"labels":false,"domain":false,"title":null}},"y":{"datum":0.01,"type":"quantitative","scale":{"type":"log","domain":[0.0001,1],"nice":false},"axis":{"orient":"left","values":[0.0002,0.0003,0.0004,0.0005,0.0006,0.0007,0.0008,0.0009,0.002,0.003,0.004,0.005,0.006,0.007,0.008,0.009,0.02,0.03,0.04,0.05,0.06,0.07,0.08,0.09,0.2,0.3,0.4,0.5,0.6,0.7,0.8,0.9],"tickSize":-3,"labels":false,"domain":false,"title":null}}}},
{"data":{"values":[{}]},"mark":{"type":"point","opacity":0},"encoding":{"x":{"datum":1000,"type":"quantitative","axis":{"orient":"top","values":[1000,10000,100000],"tickSize":-6,"labels":false,"domain":true,"title":null}},"y":{"datum":0.01,"type":"quantitative","scale":{"type":"log","domain":[0.0001,1],"nice":false},"axis":{"orient":"right","values":[0.0001,0.001,0.01,0.1,1],"tickSize":-6,"labels":false,"domain":true,"title":null}}}},
{"data":{"values":[{}]},"mark":{"type":"point","opacity":0},"encoding":{"x":{"datum":1000,"type":"quantitative","axis":{"orient":"top","values":[2000,3000,4000,5000,6000,7000,8000,9000,20000,30000,40000,50000,60000,70000,80000,90000,200000,300000,400000,500000,600000],"tickSize":-3,"labels":false,"domain":false,"title":null}},"y":{"datum":0.01,"type":"quantitative","scale":{"type":"log","domain":[0.0001,1],"nice":false},"axis":{"orient":"right","values":[0.0002,0.0003,0.0004,0.0005,0.0006,0.0007,0.0008,0.0009,0.002,0.003,0.004,0.005,0.006,0.007,0.008,0.009,0.02,0.03,0.04,0.05,0.06,0.07,0.08,0.09,0.2,0.3,0.4,0.5,0.6,0.7,0.8,0.9],"tickSize":-3,"labels":false,"domain":false,"title":null}}}}
]},
{"width":283,"height":80,"title":{"text":"(c)","dx":-50},"data":{"name":"powC"},
"resolve":{"axis":{"x":"independent","y":"independent"}},
"layer":[
{"mark":{"type":"area","color":"#3ae51c"},"encoding":{"x":{"field":"t","type":"quantitative","scale":{"type":"log","domain":[1000,604800],"nice":false},"axis":null},"y":{"field":"green","type":"quantitative","scale":{"domain":[0,5],"nice":false,"zero":false},"axis":null},"y2":{"datum":1.2}}},
{"data":{"name":"blue"},"mark":{"type":"area","color":"#0b3df2"},"encoding":{"x":{"field":"t","type":"quantitative","scale":{"type":"log","domain":[1000,604800],"nice":false},"axis":null},"y":{"field":"hi","type":"quantitative","scale":{"domain":[0,5],"nice":false,"zero":false},"axis":null},"y2":{"field":"lo"}}},
{"mark":{"type":"line","color":"#e2141c","strokeWidth":1,"interpolate":"monotone"},"encoding":{"x":{"field":"t","type":"quantitative","scale":{"type":"log","domain":[1000,604800],"nice":false},"axis":null},"y":{"field":"red","type":"quantitative","scale":{"domain":[0,5],"nice":false,"zero":false},"axis":null}}},
{"data":{"name":"markers"},"transform":[{"filter":"datum.t < 600000"}],"mark":{"type":"rule","color":"black","strokeDash":[4,3],"strokeWidth":0.9},"encoding":{"x":{"field":"t","type":"quantitative","scale":{"type":"log","domain":[1000,604800],"nice":false},"axis":null}}},
{"data":{"name":"markers"},"mark":{"type":"text","align":"right","baseline":"middle","dx":-3,"fontSize":8},"encoding":{"x":{"field":"t","type":"quantitative","scale":{"type":"log","domain":[1000,604800],"nice":false},"axis":null},"y":{"datum":4.5,"type":"quantitative","scale":{"domain":[0,5],"nice":false,"zero":false},"axis":null},"text":{"field":"label"}}},
{"data":{"name":"resbar"},"mark":{"type":"rule","color":"black","strokeWidth":1.5},"encoding":{"x":{"field":"start","type":"quantitative","scale":{"type":"log","domain":[1000,604800],"nice":false},"axis":null},"x2":{"field":"end"},"y":{"datum":4.5,"type":"quantitative","scale":{"domain":[0,5],"nice":false,"zero":false},"axis":null}}},
{"data":{"values":[{}]},"mark":{"type":"point","opacity":0},"encoding":{"x":{"datum":1000,"type":"quantitative","axis":{"orient":"bottom","values":[1000,10000,100000],"tickSize":-6,"labels":false,"domain":true,"title":null}},"y":{"datum":1,"type":"quantitative","scale":{"domain":[0,5],"nice":false,"zero":false},"axis":{"orient":"left","values":[0,1,2,3,4,5],"format":"d","tickSize":-6,"labelPadding":10.7,"domain":true,"title":"fluctuation power P(ω)","titlePadding":6}}}},
{"data":{"values":[{}]},"mark":{"type":"point","opacity":0},"encoding":{"x":{"datum":1000,"type":"quantitative","axis":{"orient":"bottom","values":[2000,3000,4000,5000,6000,7000,8000,9000,20000,30000,40000,50000,60000,70000,80000,90000,200000,300000,400000,500000,600000],"tickSize":-3,"labels":false,"domain":false,"title":null}},"y":{"datum":1,"type":"quantitative","scale":{"domain":[0,5],"nice":false,"zero":false},"axis":{"orient":"left","values":[0.2,0.4,0.6,0.8,1.2,1.4,1.6,1.8,2.2,2.4,2.6,2.8,3.2,3.4,3.6,3.8,4.2,4.4,4.6,4.8],"tickSize":-3,"labels":false,"domain":false,"title":null}}}},
{"data":{"values":[{}]},"mark":{"type":"point","opacity":0},"encoding":{"x":{"datum":1000,"type":"quantitative","axis":{"orient":"top","values":[1000,10000,100000],"tickSize":-6,"labels":false,"domain":true,"title":null}},"y":{"datum":1,"type":"quantitative","scale":{"domain":[0,5],"nice":false,"zero":false},"axis":{"orient":"right","values":[0,1,2,3,4,5],"tickSize":-6,"labels":false,"domain":true,"title":null}}}},
{"data":{"values":[{}]},"mark":{"type":"point","opacity":0},"encoding":{"x":{"datum":1000,"type":"quantitative","axis":{"orient":"top","values":[2000,3000,4000,5000,6000,7000,8000,9000,20000,30000,40000,50000,60000,70000,80000,90000,200000,300000,400000,500000,600000],"tickSize":-3,"labels":false,"domain":false,"title":null}},"y":{"datum":1,"type":"quantitative","scale":{"domain":[0,5],"nice":false,"zero":false},"axis":{"orient":"right","values":[0.2,0.4,0.6,0.8,1.2,1.4,1.6,1.8,2.2,2.4,2.6,2.8,3.2,3.4,3.6,3.8,4.2,4.4,4.6,4.8],"tickSize":-3,"labels":false,"domain":false,"title":null}}}}
]},
{"width":283,"height":80,"title":{"text":"(g)","dx":-16.4},"data":{"name":"powG"},
"resolve":{"axis":{"x":"independent","y":"independent"}},
"layer":[
{"mark":{"type":"area","color":"#3ae51c"},"encoding":{"x":{"field":"t","type":"quantitative","scale":{"type":"log","domain":[1000,604800],"nice":false},"axis":null},"y":{"field":"green","type":"quantitative","scale":{"domain":[0,5],"nice":false,"zero":false},"axis":null},"y2":{"datum":1.2}}},
{"data":{"name":"blue"},"mark":{"type":"area","color":"#0b3df2"},"encoding":{"x":{"field":"t","type":"quantitative","scale":{"type":"log","domain":[1000,604800],"nice":false},"axis":null},"y":{"field":"hi","type":"quantitative","scale":{"domain":[0,5],"nice":false,"zero":false},"axis":null},"y2":{"field":"lo"}}},
{"mark":{"type":"line","color":"#e2141c","strokeWidth":1,"interpolate":"monotone"},"encoding":{"x":{"field":"t","type":"quantitative","scale":{"type":"log","domain":[1000,604800],"nice":false},"axis":null},"y":{"field":"red","type":"quantitative","scale":{"domain":[0,5],"nice":false,"zero":false},"axis":null}}},
{"data":{"name":"markers"},"transform":[{"filter":"datum.t < 600000"}],"mark":{"type":"rule","color":"black","strokeDash":[4,3],"strokeWidth":0.9},"encoding":{"x":{"field":"t","type":"quantitative","scale":{"type":"log","domain":[1000,604800],"nice":false},"axis":null}}},
{"data":{"name":"markers"},"mark":{"type":"text","align":"right","baseline":"middle","dx":-3,"fontSize":8},"encoding":{"x":{"field":"t","type":"quantitative","scale":{"type":"log","domain":[1000,604800],"nice":false},"axis":null},"y":{"datum":4.5,"type":"quantitative","scale":{"domain":[0,5],"nice":false,"zero":false},"axis":null},"text":{"field":"label"}}},
{"data":{"name":"resbar"},"mark":{"type":"rule","color":"black","strokeWidth":1.5},"encoding":{"x":{"field":"start","type":"quantitative","scale":{"type":"log","domain":[1000,604800],"nice":false},"axis":null},"x2":{"field":"end"},"y":{"datum":4.5,"type":"quantitative","scale":{"domain":[0,5],"nice":false,"zero":false},"axis":null}}},
{"data":{"values":[{}]},"mark":{"type":"point","opacity":0},"encoding":{"x":{"datum":1000,"type":"quantitative","axis":{"orient":"bottom","values":[1000,10000,100000],"tickSize":-6,"labels":false,"domain":true,"title":null}},"y":{"datum":1,"type":"quantitative","scale":{"domain":[0,5],"nice":false,"zero":false},"axis":{"orient":"left","values":[0,1,2,3,4,5],"tickSize":-6,"labels":false,"domain":true,"title":null}}}},
{"data":{"values":[{}]},"mark":{"type":"point","opacity":0},"encoding":{"x":{"datum":1000,"type":"quantitative","axis":{"orient":"bottom","values":[2000,3000,4000,5000,6000,7000,8000,9000,20000,30000,40000,50000,60000,70000,80000,90000,200000,300000,400000,500000,600000],"tickSize":-3,"labels":false,"domain":false,"title":null}},"y":{"datum":1,"type":"quantitative","scale":{"domain":[0,5],"nice":false,"zero":false},"axis":{"orient":"left","values":[0.2,0.4,0.6,0.8,1.2,1.4,1.6,1.8,2.2,2.4,2.6,2.8,3.2,3.4,3.6,3.8,4.2,4.4,4.6,4.8],"tickSize":-3,"labels":false,"domain":false,"title":null}}}},
{"data":{"values":[{}]},"mark":{"type":"point","opacity":0},"encoding":{"x":{"datum":1000,"type":"quantitative","axis":{"orient":"top","values":[1000,10000,100000],"tickSize":-6,"labels":false,"domain":true,"title":null}},"y":{"datum":1,"type":"quantitative","scale":{"domain":[0,5],"nice":false,"zero":false},"axis":{"orient":"right","values":[0,1,2,3,4,5],"tickSize":-6,"labels":false,"domain":true,"title":null}}}},
{"data":{"values":[{}]},"mark":{"type":"point","opacity":0},"encoding":{"x":{"datum":1000,"type":"quantitative","axis":{"orient":"top","values":[2000,3000,4000,5000,6000,7000,8000,9000,20000,30000,40000,50000,60000,70000,80000,90000,200000,300000,400000,500000,600000],"tickSize":-3,"labels":false,"domain":false,"title":null}},"y":{"datum":1,"type":"quantitative","scale":{"domain":[0,5],"nice":false,"zero":false},"axis":{"orient":"right","values":[0.2,0.4,0.6,0.8,1.2,1.4,1.6,1.8,2.2,2.4,2.6,2.8,3.2,3.4,3.6,3.8,4.2,4.4,4.6,4.8],"tickSize":-3,"labels":false,"domain":false,"title":null}}}}
]},
{"width":283,"height":80,"title":{"text":"(d)","dx":-50},"data":{"name":"pD"},
"resolve":{"axis":{"x":"independent","y":"independent"}},
"layer":[
{"data":{"values":[{}]},"mark":{"type":"rule","color":"#555","strokeWidth":1},"encoding":{"x":{"datum":1000,"type":"quantitative","scale":{"type":"log","domain":[1000,604800],"nice":false},"axis":null},"x2":{"datum":604800},"y":{"datum":0.01,"type":"quantitative","scale":{"type":"log","domain":[0.0001,1],"nice":false},"axis":null}}},
{"data":{"name":"markers"},"transform":[{"filter":"datum.t < 600000"}],"mark":{"type":"rule","color":"black","strokeDash":[1,2],"strokeWidth":0.8},"encoding":{"x":{"field":"t","type":"quantitative","scale":{"type":"log","domain":[1000,604800],"nice":false},"axis":null}}},
{"mark":{"type":"line","interpolate":"step-after","color":"black","strokeWidth":1.3},"encoding":{"x":{"field":"t","type":"quantitative","scale":{"type":"log","domain":[1000,604800],"nice":false},"axis":null},"y":{"field":"mix","type":"quantitative","scale":{"type":"log","domain":[0.0001,1],"nice":false},"axis":null}}},
{"mark":{"type":"line","interpolate":"step-after","color":"black","strokeWidth":1.1,"strokeDash":[4,2.5]},"encoding":{"x":{"field":"t","type":"quantitative","scale":{"type":"log","domain":[1000,604800],"nice":false},"axis":null},"y":{"field":"force","type":"quantitative","scale":{"type":"log","domain":[0.0001,1],"nice":false},"axis":null}}},
{"data":{"name":"hatch"},"mark":{"type":"rect"},"encoding":{"x":{"field":"start","type":"quantitative","scale":{"type":"log","domain":[1000,604800],"nice":false},"axis":null},"x2":{"field":"end"},"y":{"datum":0.0001,"type":"quantitative","scale":{"type":"log","domain":[0.0001,1],"nice":false},"axis":null},"y2":{"datum":1}}},
{"data":{"name":"sig"},"transform":[{"filter":"datum.panel == 'd'"}],"mark":{"type":"text","align":"left","baseline":"alphabetic","dx":-103.3,"fontSize":10.3,"text":"significance (overall: p"},"encoding":{"x":{"datum":24600,"type":"quantitative","axis":null},"y":{"datum":2.8,"type":"quantitative","scale":{"type":"log","domain":[0.0001,1],"nice":false},"axis":null}}},
{"data":{"name":"sig"},"transform":[{"filter":"datum.panel == 'd'"}],"mark":{"type":"text","align":"left","baseline":"alphabetic","dx":-8.33,"dy":2.5,"fontSize":7.3,"text":"mix"},"encoding":{"x":{"datum":24600,"type":"quantitative","axis":null},"y":{"datum":2.8,"type":"quantitative","scale":{"type":"log","domain":[0.0001,1],"nice":false},"axis":null}}},
{"data":{"name":"sig"},"transform":[{"filter":"datum.panel == 'd'"}],"mark":{"type":"text","align":"left","baseline":"alphabetic","dx":4.53,"fontSize":10.3},"encoding":{"x":{"datum":24600,"type":"quantitative","axis":null},"y":{"datum":2.8,"type":"quantitative","scale":{"type":"log","domain":[0.0001,1],"nice":false},"axis":null},"text":{"field":"mix"}}},
{"data":{"name":"sig"},"transform":[{"filter":"datum.panel == 'd'"}],"mark":{"type":"text","align":"left","baseline":"alphabetic","dx":49.25,"dy":2.5,"fontSize":7.3,"text":"force"},"encoding":{"x":{"datum":24600,"type":"quantitative","axis":null},"y":{"datum":2.8,"type":"quantitative","scale":{"type":"log","domain":[0.0001,1],"nice":false},"axis":null}}},
{"data":{"name":"sig"},"transform":[{"filter":"datum.panel == 'd'"}],"mark":{"type":"text","align":"left","baseline":"alphabetic","dx":65.74,"fontSize":10.3},"encoding":{"x":{"datum":24600,"type":"quantitative","axis":null},"y":{"datum":2.8,"type":"quantitative","scale":{"type":"log","domain":[0.0001,1],"nice":false},"axis":null},"text":{"field":"force"}}},
{"data":{"values":[{}]},"mark":{"type":"point","opacity":0},"encoding":{"x":{"datum":1000,"type":"quantitative","axis":{"orient":"bottom","values":[1000,10000,100000],"labelExpr":"datum.value == 1000 ? '10³' : datum.value == 10000 ? '10⁴' : '10⁵'","tickSize":-6,"labelPadding":9,"domain":true,"title":"timescale of variation (s)","titlePadding":3}},"y":{"datum":0.01,"type":"quantitative","scale":{"type":"log","domain":[0.0001,1],"nice":false},"axis":{"orient":"left","values":[0.0001,0.001,0.01,0.1,1],"format":".4f","tickSize":-6,"labelPadding":16.3,"domain":true,"title":"p-value (one sided)","titlePadding":8}}}},
{"data":{"values":[{}]},"mark":{"type":"point","opacity":0},"encoding":{"x":{"datum":1000,"type":"quantitative","axis":{"orient":"bottom","values":[2000,3000,4000,5000,6000,7000,8000,9000,20000,30000,40000,50000,60000,70000,80000,90000,200000,300000,400000,500000,600000],"tickSize":-3,"labels":false,"domain":false,"title":null}},"y":{"datum":0.01,"type":"quantitative","scale":{"type":"log","domain":[0.0001,1],"nice":false},"axis":{"orient":"left","values":[0.0002,0.0003,0.0004,0.0005,0.0006,0.0007,0.0008,0.0009,0.002,0.003,0.004,0.005,0.006,0.007,0.008,0.009,0.02,0.03,0.04,0.05,0.06,0.07,0.08,0.09,0.2,0.3,0.4,0.5,0.6,0.7,0.8,0.9],"tickSize":-3,"labels":false,"domain":false,"title":null}}}},
{"data":{"values":[{}]},"mark":{"type":"point","opacity":0},"encoding":{"x":{"datum":1000,"type":"quantitative","axis":{"orient":"top","values":[1000,10000,100000],"tickSize":-6,"labels":false,"domain":true,"title":null}},"y":{"datum":0.01,"type":"quantitative","scale":{"type":"log","domain":[0.0001,1],"nice":false},"axis":{"orient":"right","values":[0.0001,0.001,0.01,0.1,1],"tickSize":-6,"labels":false,"domain":true,"title":null}}}},
{"data":{"values":[{}]},"mark":{"type":"point","opacity":0},"encoding":{"x":{"datum":1000,"type":"quantitative","axis":{"orient":"top","values":[2000,3000,4000,5000,6000,7000,8000,9000,20000,30000,40000,50000,60000,70000,80000,90000,200000,300000,400000,500000,600000],"tickSize":-3,"labels":false,"domain":false,"title":null}},"y":{"datum":0.01,"type":"quantitative","scale":{"type":"log","domain":[0.0001,1],"nice":false},"axis":{"orient":"right","values":[0.0002,0.0003,0.0004,0.0005,0.0006,0.0007,0.0008,0.0009,0.002,0.003,0.004,0.005,0.006,0.007,0.008,0.009,0.02,0.03,0.04,0.05,0.06,0.07,0.08,0.09,0.2,0.3,0.4,0.5,0.6,0.7,0.8,0.9],"tickSize":-3,"labels":false,"domain":false,"title":null}}}}
]},
{"width":283,"height":80,"title":{"text":"(h)","dx":-16.4},"data":{"name":"pH"},
"resolve":{"axis":{"x":"independent","y":"independent"}},
"layer":[
{"data":{"values":[{}]},"mark":{"type":"rule","color":"#555","strokeWidth":1},"encoding":{"x":{"datum":1000,"type":"quantitative","scale":{"type":"log","domain":[1000,604800],"nice":false},"axis":null},"x2":{"datum":604800},"y":{"datum":0.01,"type":"quantitative","scale":{"type":"log","domain":[0.0001,1],"nice":false},"axis":null}}},
{"data":{"name":"markers"},"transform":[{"filter":"datum.t < 600000"}],"mark":{"type":"rule","color":"black","strokeDash":[1,2],"strokeWidth":0.8},"encoding":{"x":{"field":"t","type":"quantitative","scale":{"type":"log","domain":[1000,604800],"nice":false},"axis":null}}},
{"mark":{"type":"line","interpolate":"step-after","color":"black","strokeWidth":1.3},"encoding":{"x":{"field":"t","type":"quantitative","scale":{"type":"log","domain":[1000,604800],"nice":false},"axis":null},"y":{"field":"mix","type":"quantitative","scale":{"type":"log","domain":[0.0001,1],"nice":false},"axis":null}}},
{"mark":{"type":"line","interpolate":"step-after","color":"black","strokeWidth":1.1,"strokeDash":[4,2.5]},"encoding":{"x":{"field":"t","type":"quantitative","scale":{"type":"log","domain":[1000,604800],"nice":false},"axis":null},"y":{"field":"force","type":"quantitative","scale":{"type":"log","domain":[0.0001,1],"nice":false},"axis":null}}},
{"data":{"name":"hatch"},"mark":{"type":"rect"},"encoding":{"x":{"field":"start","type":"quantitative","scale":{"type":"log","domain":[1000,604800],"nice":false},"axis":null},"x2":{"field":"end"},"y":{"datum":0.0001,"type":"quantitative","scale":{"type":"log","domain":[0.0001,1],"nice":false},"axis":null},"y2":{"datum":1}}},
{"data":{"name":"sig"},"transform":[{"filter":"datum.panel == 'h'"}],"mark":{"type":"text","align":"left","baseline":"alphabetic","dx":-103.3,"fontSize":10.3,"text":"significance (overall: p"},"encoding":{"x":{"datum":24600,"type":"quantitative","axis":null},"y":{"datum":2.8,"type":"quantitative","scale":{"type":"log","domain":[0.0001,1],"nice":false},"axis":null}}},
{"data":{"name":"sig"},"transform":[{"filter":"datum.panel == 'h'"}],"mark":{"type":"text","align":"left","baseline":"alphabetic","dx":-8.33,"dy":2.5,"fontSize":7.3,"text":"mix"},"encoding":{"x":{"datum":24600,"type":"quantitative","axis":null},"y":{"datum":2.8,"type":"quantitative","scale":{"type":"log","domain":[0.0001,1],"nice":false},"axis":null}}},
{"data":{"name":"sig"},"transform":[{"filter":"datum.panel == 'h'"}],"mark":{"type":"text","align":"left","baseline":"alphabetic","dx":4.53,"fontSize":10.3},"encoding":{"x":{"datum":24600,"type":"quantitative","axis":null},"y":{"datum":2.8,"type":"quantitative","scale":{"type":"log","domain":[0.0001,1],"nice":false},"axis":null},"text":{"field":"mix"}}},
{"data":{"name":"sig"},"transform":[{"filter":"datum.panel == 'h'"}],"mark":{"type":"text","align":"left","baseline":"alphabetic","dx":49.25,"dy":2.5,"fontSize":7.3,"text":"force"},"encoding":{"x":{"datum":24600,"type":"quantitative","axis":null},"y":{"datum":2.8,"type":"quantitative","scale":{"type":"log","domain":[0.0001,1],"nice":false},"axis":null}}},
{"data":{"name":"sig"},"transform":[{"filter":"datum.panel == 'h'"}],"mark":{"type":"text","align":"left","baseline":"alphabetic","dx":65.74,"fontSize":10.3},"encoding":{"x":{"datum":24600,"type":"quantitative","axis":null},"y":{"datum":2.8,"type":"quantitative","scale":{"type":"log","domain":[0.0001,1],"nice":false},"axis":null},"text":{"field":"force"}}},
{"data":{"values":[{}]},"mark":{"type":"point","opacity":0},"encoding":{"x":{"datum":1000,"type":"quantitative","axis":{"orient":"bottom","values":[1000,10000,100000],"labelExpr":"datum.value == 1000 ? '10³' : datum.value == 10000 ? '10⁴' : '10⁵'","tickSize":-6,"labelPadding":9,"domain":true,"title":"timescale of variation (s)","titlePadding":3}},"y":{"datum":0.01,"type":"quantitative","scale":{"type":"log","domain":[0.0001,1],"nice":false},"axis":{"orient":"left","values":[0.0001,0.001,0.01,0.1,1],"tickSize":-6,"labels":false,"domain":true,"title":null}}}},
{"data":{"values":[{}]},"mark":{"type":"point","opacity":0},"encoding":{"x":{"datum":1000,"type":"quantitative","axis":{"orient":"bottom","values":[2000,3000,4000,5000,6000,7000,8000,9000,20000,30000,40000,50000,60000,70000,80000,90000,200000,300000,400000,500000,600000],"tickSize":-3,"labels":false,"domain":false,"title":null}},"y":{"datum":0.01,"type":"quantitative","scale":{"type":"log","domain":[0.0001,1],"nice":false},"axis":{"orient":"left","values":[0.0002,0.0003,0.0004,0.0005,0.0006,0.0007,0.0008,0.0009,0.002,0.003,0.004,0.005,0.006,0.007,0.008,0.009,0.02,0.03,0.04,0.05,0.06,0.07,0.08,0.09,0.2,0.3,0.4,0.5,0.6,0.7,0.8,0.9],"tickSize":-3,"labels":false,"domain":false,"title":null}}}},
{"data":{"values":[{}]},"mark":{"type":"point","opacity":0},"encoding":{"x":{"datum":1000,"type":"quantitative","axis":{"orient":"top","values":[1000,10000,100000],"tickSize":-6,"labels":false,"domain":true,"title":null}},"y":{"datum":0.01,"type":"quantitative","scale":{"type":"log","domain":[0.0001,1],"nice":false},"axis":{"orient":"right","values":[0.0001,0.001,0.01,0.1,1],"tickSize":-6,"labels":false,"domain":true,"title":null}}}},
{"data":{"values":[{}]},"mark":{"type":"point","opacity":0},"encoding":{"x":{"datum":1000,"type":"quantitative","axis":{"orient":"top","values":[2000,3000,4000,5000,6000,7000,8000,9000,20000,30000,40000,50000,60000,70000,80000,90000,200000,300000,400000,500000,600000],"tickSize":-3,"labels":false,"domain":false,"title":null}},"y":{"datum":0.01,"type":"quantitative","scale":{"type":"log","domain":[0.0001,1],"nice":false},"axis":{"orient":"right","values":[0.0002,0.0003,0.0004,0.0005,0.0006,0.0007,0.0008,0.0009,0.002,0.003,0.004,0.005,0.006,0.007,0.008,0.009,0.02,0.03,0.04,0.05,0.06,0.07,0.08,0.09,0.2,0.3,0.4,0.5,0.6,0.7,0.8,0.9],"tickSize":-3,"labels":false,"domain":false,"title":null}}}}
]}
]
}
